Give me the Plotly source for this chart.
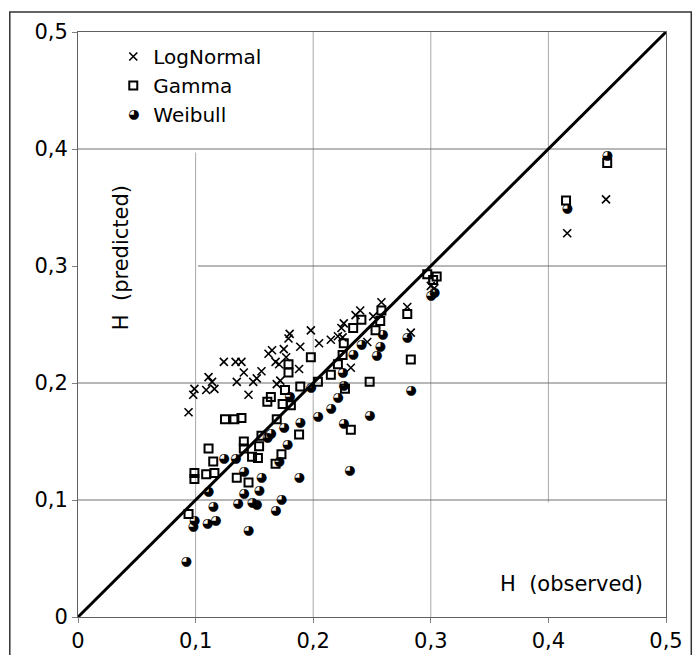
import plotly.graph_objects as go

# ---- data ----
lognormal_x = [0.094, 0.098, 0.099, 0.109, 0.111, 0.114, 0.116, 0.124, 0.134, 0.139,
               0.135, 0.141, 0.145, 0.149, 0.152, 0.156, 0.162, 0.165, 0.168, 0.171,
               0.169, 0.172, 0.175, 0.179, 0.180, 0.177, 0.188, 0.189, 0.198, 0.205,
               0.215, 0.221, 0.224, 0.226, 0.225, 0.232, 0.236, 0.240, 0.246, 0.251,
               0.258, 0.280, 0.283, 0.300, 0.303, 0.416, 0.449]
lognormal_y = [0.175, 0.190, 0.195, 0.194, 0.205, 0.201, 0.195, 0.218, 0.218, 0.218,
               0.201, 0.209, 0.190, 0.201, 0.204, 0.210, 0.225, 0.228, 0.218, 0.216,
               0.199, 0.202, 0.229, 0.238, 0.242, 0.222, 0.212, 0.231, 0.245, 0.234,
               0.237, 0.240, 0.247, 0.251, 0.239, 0.213, 0.258, 0.262, 0.235, 0.257,
               0.269, 0.265, 0.243, 0.283, 0.281, 0.328, 0.357]

gamma_x = [0.094, 0.099, 0.099, 0.109, 0.111, 0.115, 0.116, 0.125, 0.133, 0.139,
           0.135, 0.141, 0.141, 0.145, 0.148, 0.153, 0.154, 0.156, 0.161, 0.164,
           0.169, 0.168, 0.173, 0.174, 0.176, 0.179, 0.179, 0.181, 0.188, 0.189,
           0.198, 0.204, 0.215, 0.221, 0.225, 0.226, 0.227, 0.232, 0.234, 0.241,
           0.248, 0.253, 0.257, 0.258, 0.280, 0.283, 0.297, 0.302, 0.305, 0.415,
           0.450]
gamma_y = [0.088, 0.123, 0.118, 0.122, 0.144, 0.133, 0.123, 0.169, 0.169, 0.170,
           0.119, 0.150, 0.144, 0.115, 0.137, 0.136, 0.146, 0.155, 0.184, 0.188,
           0.169, 0.131, 0.139, 0.182, 0.194, 0.216, 0.209, 0.181, 0.156, 0.197,
           0.222, 0.201, 0.207, 0.216, 0.224, 0.234, 0.195, 0.160, 0.247, 0.254,
           0.201, 0.245, 0.253, 0.262, 0.259, 0.220, 0.293, 0.288, 0.291, 0.356,
           0.388]

weibull_x = [0.092, 0.098, 0.099, 0.110, 0.111, 0.115, 0.117, 0.124, 0.134, 0.136,
             0.141, 0.141, 0.145, 0.148, 0.152, 0.154, 0.156, 0.161, 0.164, 0.168,
             0.171, 0.173, 0.175, 0.178, 0.180, 0.188, 0.189, 0.198, 0.204, 0.215,
             0.221, 0.225, 0.226, 0.226, 0.231, 0.234, 0.241, 0.248, 0.254, 0.257,
             0.259, 0.280, 0.283, 0.300, 0.303, 0.416, 0.450]
weibull_y = [0.047, 0.077, 0.082, 0.080, 0.107, 0.094, 0.082, 0.135, 0.135, 0.097,
             0.124, 0.105, 0.074, 0.098, 0.096, 0.108, 0.119, 0.153, 0.157, 0.091,
             0.133, 0.100, 0.162, 0.147, 0.188, 0.119, 0.166, 0.196, 0.171, 0.178,
             0.187, 0.209, 0.198, 0.165, 0.125, 0.224, 0.233, 0.172, 0.223, 0.231,
             0.241, 0.239, 0.193, 0.275, 0.277, 0.349, 0.394]

diag = [0, 0.5]
tick_vals = [0, 0.1, 0.2, 0.3, 0.4, 0.5]
ax_range = [0, 0.5]
BALL = "\u25D5"   # circle with all but upper-left quadrant black

FONT = "DejaVu Sans, Liberation Sans, Arial, sans-serif"

fig = go.Figure()

fig.add_trace(go.Scatter(x=diag, y=diag, mode="lines", showlegend=False,
                         line=dict(color="black", width=3), hoverinfo="skip"))

fig.add_trace(go.Scatter(
    x=lognormal_x, y=lognormal_y, mode="markers", name="LogNormal",
    marker=dict(symbol="x-thin", size=8, color="black",
                line=dict(color="black", width=1.6))))

fig.add_trace(go.Scatter(
    x=gamma_x, y=gamma_y, mode="markers", name="Gamma",
    marker=dict(symbol="square-open", size=8, color="black",
                line=dict(color="black", width=2))))

# Weibull points drawn as shaded-ball glyphs
fig.add_trace(go.Scatter(
    x=weibull_x, y=weibull_y, mode="text", name="Weibull", showlegend=False,
    text=[BALL] * len(weibull_x), textposition="middle center",
    textfont=dict(family="DejaVu Sans", size=13, color="black")))
# legend entry for Weibull (symbol supplied by an annotation over it)
fig.add_trace(go.Scatter(
    x=[None], y=[None], mode="markers", name="Weibull",
    marker=dict(symbol="circle", size=9, color="rgba(0,0,0,0)")))

# gridlines (with the gaps seen in the reference)
shapes = []
vcol, hcol = "#a8a8a8", "#707070"
for v in tick_vals[1:-1]:
    y0, y1 = 0, 0.5
    if v == 0.1:
        y1 = 0.397
    if v == 0.4:
        y0 = 0.098
    shapes.append(dict(type="line", xref="x", yref="y", x0=v, x1=v, y0=y0, y1=y1,
                       line=dict(color=vcol, width=1), layer="below"))
for v in tick_vals[1:-1]:
    x0 = 0.102 if v == 0.3 else 0
    shapes.append(dict(type="line", xref="x", yref="y", x0=x0, x1=0.5, y0=v, y1=v,
                       line=dict(color=hcol, width=1), layer="below"))
# outer frame of the picture
shapes.append(dict(type="rect", xref="paper", yref="paper",
                   x0=-0.116, x1=1.043, y0=-0.08, y1=1.034,
                   line=dict(color="#333333", width=1.5)))

fig.update_layout(
    width=694, height=655,
    margin=dict(l=78, r=28, t=32, b=38, autoexpand=False),
    paper_bgcolor="white", plot_bgcolor="white",
    separators=", ",
    font=dict(family=FONT, size=20, color="black"),
    shapes=shapes,
    showlegend=True,
    legend=dict(x=0.06, y=0.9915, xanchor="left", yanchor="top",
                bgcolor="rgba(0,0,0,0)", borderwidth=0,
                font=dict(family=FONT, size=20), itemwidth=30, tracegroupgap=0),
    annotations=[
        dict(x=0.036, y=0.307, xref="x", yref="y", text="H  (predicted)",
             textangle=-90, showarrow=False, font=dict(family=FONT, size=21)),
        dict(x=0.42, y=0.028, xref="x", yref="y", text="H  (observed)",
             showarrow=False, font=dict(family=FONT, size=21)),
        dict(x=0.0939, y=0.86, xref="paper", yref="paper", text=BALL,
             xanchor="center", yanchor="middle",
             showarrow=False, font=dict(family="DejaVu Sans", size=13, color="black")),
    ],
    xaxis=dict(range=ax_range, tickvals=tick_vals, showgrid=False, zeroline=False,
               showline=True, linecolor="#606060", linewidth=1, mirror=True,
               ticks="outside", ticklen=5, tickcolor="#808080", automargin=False,
               tickfont=dict(family=FONT, size=21)),
    yaxis=dict(range=ax_range, tickvals=tick_vals, showgrid=False, zeroline=False,
               showline=True, linecolor="#606060", linewidth=1, mirror=True,
               ticks="outside", ticklen=5, tickcolor="#808080", automargin=False,
               tickfont=dict(family=FONT, size=21)),
)

fig.write_html("out.html", config={"displayModeBar": False},
               post_script="document.body.style.margin='0';")
